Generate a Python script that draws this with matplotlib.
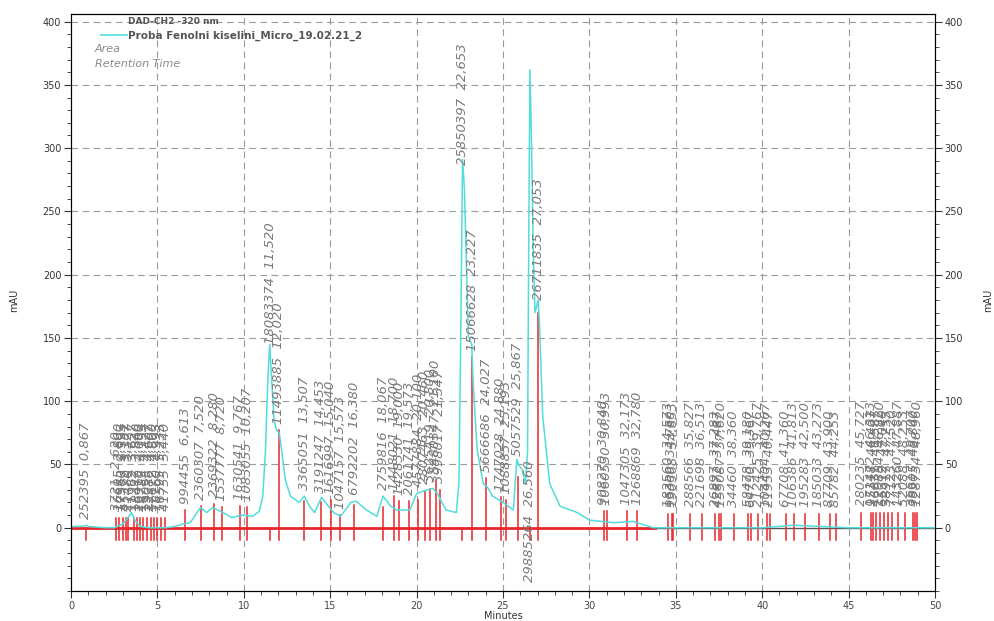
import numpy as np
import matplotlib
matplotlib.use("Agg")
import matplotlib.pyplot as plt
from matplotlib.ticker import MultipleLocator

# ── chromatogram trace (DAD-CH2 320 nm) ────────────────────────────────
trace_t = [0, 0.5, 0.8, 0.9, 1.0, 1.5, 2.0, 2.5, 3.0, 3.3, 3.5, 3.7, 4.0, 4.5,
           5.0, 5.5, 6.0, 6.5, 6.9, 7.2, 7.5, 7.85, 8.2, 8.5, 8.8, 9.3, 9.6,
           9.9, 10.5, 10.9, 11.1, 11.25, 11.4, 11.5, 11.6, 11.75, 11.9, 12.05,
           12.2, 12.4, 12.7, 13.2, 13.5, 13.8, 14.1, 14.5, 14.9, 15.2, 15.6,
           16.2, 16.5, 17.1, 17.7, 18.05, 18.5, 18.85, 19.6, 20.0, 20.4, 20.95,
           21.2, 21.7, 22.3, 22.45, 22.55, 22.66, 22.76, 22.86, 23.0, 23.19,
           23.27, 23.5, 23.85, 24.1, 24.4, 25.0, 25.6, 25.8, 25.9, 26.1, 26.3,
           26.42, 26.5, 26.56, 26.63, 26.75, 26.85, 26.95, 27.03, 27.1, 27.3,
           27.7, 28.3, 29.3, 30.0, 31.4, 32.5, 33.7, 35, 40, 41.8, 45, 50]
trace_mau = [1, 1, 1.5, 2, 1, 0.5, 0, 0, 3, 8, 12, 6, 1, 0,
             0, 0, 1, 3, 4, 10, 16, 12, 16, 14, 12, 8, 9,
             10, 9, 13, 25, 60, 120, 145, 120, 85, 77, 75,
             60, 38, 25, 20, 25, 17, 12, 24, 17, 12, 9,
             20, 21, 14, 9, 25, 17, 14, 14, 27, 29, 31,
             27, 14, 12, 36, 146, 291, 270, 220, 151, 145,
             115, 62, 35, 32, 25, 20, 14, 54, 50, 46, 35,
             60, 250, 362, 320, 220, 170, 175, 180, 165, 88,
             35, 17, 12, 6, 4, 5, 0, 0, 0, 2, 0, 0]

# ── integrated peaks: retention time, area, height of the red marker ──
peak_rt = [0.867, 2.620, 2.800, 2.993, 3.187, 3.327, 3.627, 3.840, 4.000,
           4.193, 4.427, 4.607, 4.800, 4.993, 5.233, 5.440,
           6.613, 7.520, 8.280, 8.720, 9.767, 10.207, 11.520, 12.020,
           13.507, 14.453, 15.040, 15.573, 16.380, 18.067, 18.700, 19.000,
           19.573, 20.100, 20.460, 20.800, 21.100, 21.347, 22.653, 23.227,
           24.027, 24.880, 25.193, 25.867, 26.560, 27.053,
           30.840, 30.993, 32.173, 32.780, 34.573, 34.760, 34.853, 35.827,
           36.513, 37.283, 37.487, 37.620, 38.360, 39.180, 39.367, 39.767,
           40.267, 40.447, 41.360, 41.813, 42.500, 43.273, 43.900, 44.253,
           45.727, 46.313, 46.407, 46.587, 46.820, 47.040, 47.253, 47.520,
           47.887, 48.253, 48.707, 48.840, 48.960]
peak_area = [252395, 3721, 16695, 17360, 45372, 21480, 11962, 18447, 26910,
             14783, 19055, 22386, 17612, 78160, 16593, 41755,
             994455, 2360307, 2369322, 1537777, 1630541, 1083055, 18083374, 11493885,
             3365051, 3191247, 1616997, 1047157, 6792202, 2759816, 1448021, 1428330,
             2061741, 4577884, 2807463, 3625419, 5480347, 3998017, 25850397, 15066628,
             5666686, 1747028, 1088857, 5057529, 29885264, 26711835,
             908270, 1060530, 1047305, 1268869, 182560, 95300, 190568, 288566,
             221698, 26897, 42872, 155087, 34460, 58478, 64790, 212425,
             104404, 21953, 67708, 106386, 195283, 185033, 87709, 85782,
             280235, 171472, 95318, 46031, 120884, 65312, 38917, 77123,
             143260, 52088, 36617, 98305, 128734]
peak_top = [0, 8, 8, 8, 8, 8, 8, 8, 8,
            8, 8, 8, 8, 8, 8, 8,
            14, 17, 19, 16, 17, 16, 0, 77,
            21, 20, 22, 10, 18, 16, 25, 21,
            21, 22, 29, 31, 38, 30, 0, 135,
            39, 24, 22, 40, 0, 170,
            13, 13, 13, 13, 11, 11, 11, 11,
            11, 11, 11, 11, 11, 11, 11, 11,
            11, 11, 11, 11, 11, 11, 11, 11,
            12, 12, 12, 12, 12, 12, 12, 12,
            12, 12, 12, 12, 12]
label_below = [26.560]

RED = "#e8262b"
CYAN = "#52dcdc"
GRAY = "#7a7a7a"

fig = plt.figure(figsize=(9.95, 6.21), dpi=100)
ax = fig.add_axes([71 / 995, 1 - 591 / 621, 864 / 995, 577 / 621])
ax.set_xlim(0, 50)
ax.set_ylim(-50, 406)

# grid
for gx in range(5, 50, 5):
    ax.axvline(gx, color="#9a9a9a", lw=0.8, ls=(0, (6, 4)), zorder=0)
for gy in range(50, 401, 50):
    ax.axhline(gy, color="#9a9a9a", lw=0.8, ls=(0, (6, 4)), zorder=0)

# baseline
ax.plot([0, 33.8], [0, 0], color=RED, lw=2.0, zorder=2)
ax.plot([33.8, 50], [0, 0], color="#555555", lw=1.0, zorder=2)

# trace
ax.plot(trace_t, trace_mau, color=CYAN, lw=1.1, zorder=3)

# peak markers and labels
for rt, area, top in zip(peak_rt, peak_area, peak_top):
    ax.plot([rt, rt], [-10, top], color=RED, lw=1.1, zorder=2.5)
    label = f"{area}  {rt:.3f}".replace(".", ",")
    if rt in label_below:
        y = -43
    else:
        y = max(top, np.interp(rt, trace_t, trace_mau)) + 5
    ax.text(rt, y, label, rotation=90, ha="center", va="bottom",
            fontsize=9.5, color=GRAY, style="italic", zorder=4)

# axes / ticks
ax.xaxis.set_major_locator(MultipleLocator(5))
ax.xaxis.set_minor_locator(MultipleLocator(1))
ax.yaxis.set_minor_locator(MultipleLocator(10))
ax.set_yticks(range(0, 401, 50))
ax.tick_params(which="both", direction="out", colors="#333333", labelsize=7)
ax.tick_params(which="major", length=5, pad=2)
ax.tick_params(which="minor", length=3)
ax.tick_params(axis="x", labelcolor="#444444")
ax.set_xlabel("Minutes", fontsize=7, color="#333333", labelpad=0)

ax2 = ax.twinx()
ax2.set_ylim(ax.get_ylim())
ax2.set_yticks(range(0, 401, 50))
ax2.yaxis.set_minor_locator(MultipleLocator(10))
ax2.tick_params(which="both", direction="out", colors="#333333", labelsize=7)
ax2.tick_params(which="major", length=5, pad=2)
ax2.tick_params(which="minor", length=3)

fig.text(14 / 995, 1 - 300 / 621, "mAU", rotation=90, fontsize=7, color="#333333",
         ha="center", va="center")
fig.text(988 / 995, 1 - 300 / 621, "mAU", rotation=90, fontsize=7, color="#333333",
         ha="center", va="center")

# legend block
ax.plot([0.035, 0.065], [0.964, 0.964], transform=ax.transAxes, color=CYAN, lw=1.2)
fig.text(128 / 995, 1 - 22 / 621, "DAD-CH2 -320 nm", fontsize=6.5, color="#555555",
         va="center", weight="bold")
fig.text(128 / 995, 1 - 36 / 621, "Proba Fenolni kiselini_Micro_19.02.21_2",
         fontsize=7.5, color="#555555", va="center", weight="bold")
fig.text(95 / 995, 1 - 49 / 621, "Area", fontsize=8, color="#8a8a8a",
         va="center", style="italic")
fig.text(95 / 995, 1 - 64 / 621, "Retention Time", fontsize=8, color="#8a8a8a",
         va="center", style="italic")

fig.savefig("out.png", dpi=100)
